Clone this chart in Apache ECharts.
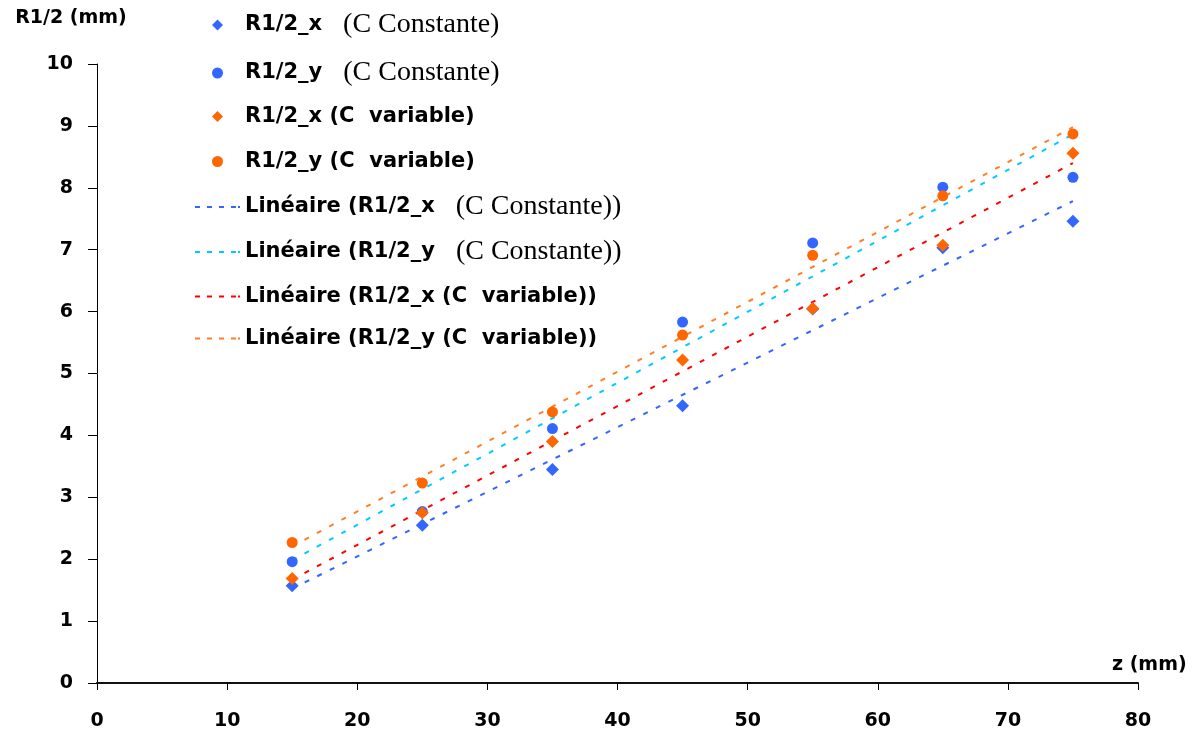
<!DOCTYPE html>
<html><head><meta charset="utf-8">
<script src="https://cdn.jsdelivr.net/npm/echarts@6/dist/echarts.min.js"></script>
<style>html,body{margin:0;padding:0;background:#fff}#c{width:1202px;height:731px}</style>
</head><body><div id="c"></div>
<script>
const zValues = [15, 25, 35, 45, 55, 65, 75];
const rxConst = [1.57, 2.55, 3.45, 4.48, 6.04, 7.03, 7.46];
const ryConst = [1.96, 2.77, 4.11, 5.83, 7.11, 8.01, 8.17];
const rxVar   = [1.69, 2.75, 3.90, 5.22, 6.05, 7.07, 8.56];
const ryVar   = [2.27, 3.23, 4.38, 5.62, 6.91, 7.87, 8.87];
const xTicks = [0, 10, 20, 30, 40, 50, 60, 70, 80];
const yTicks = [0, 1, 2, 3, 4, 5, 6, 7, 8, 9, 10];

const names = ['R1/2_x  (C Constante)', 'R1/2_y  (C Constante)', 'R1/2_x (C variable)', 'R1/2_y (C variable)',
  'Linéaire (R1/2_x  (C Constante))', 'Linéaire (R1/2_y  (C Constante))', 'Linéaire (R1/2_x (C variable))', 'Linéaire (R1/2_y (C variable))'];
const rich = {
  0: '{a|R1/2_x}{s|   (C Constante)}',
  1: '{a|R1/2_y}{s|   (C Constante)}',
  2: '{a|R1/2_x (C  variable)}',
  3: '{a|R1/2_y (C  variable)}',
  4: '{a|Linéaire (R1/2_x}{s|   (C Constante))}',
  5: '{a|Linéaire (R1/2_y}{s|   (C Constante))}',
  6: '{a|Linéaire (R1/2_x (C  variable))}',
  7: '{a|Linéaire (R1/2_y (C  variable))}'
};

function fit(xs, ys) {
  const n = xs.length;
  const mx = xs.reduce((a, b) => a + b, 0) / n;
  const my = ys.reduce((a, b) => a + b, 0) / n;
  let sxy = 0, sxx = 0;
  for (let i = 0; i < n; i++) { sxy += (xs[i] - mx) * (ys[i] - my); sxx += (xs[i] - mx) ** 2; }
  const b = sxy / sxx, a = my - b * mx;
  const x0 = xs[0], x1 = xs[n - 1];
  return [[x0, a + b * x0], [x1, a + b * x1]];
}
const pts = ys => zValues.map((z, i) => [z, ys[i]]);

const blue = '#3366FF', orange = '#FF6600';
const dataSets = [rxConst, ryConst, rxVar, ryVar];
const markerColors = [blue, blue, orange, orange];
const markerSymbols = ['diamond', 'circle', 'diamond', 'circle'];
const markerSizes = [13, 11, 13, 11];
const lineColors = ['#3366FF', '#00CCFF', '#FF0000', '#FF7F27'];
const iconDiamond = 'path://M5,0L10,5L5,10L0,5Z';
const iconCircle = 'path://M0,5A5,5,0,1,0,10,5A5,5,0,1,0,0,5Z';
const iconDash = 'path://M0,0h5v2h-5z M12,0h5v2h-5z M24,0h5v2h-5z M36,0h5v2h-5z M43,0h2v2h-2z';
const legendIcons = [iconDiamond, iconCircle, iconDiamond, iconCircle, iconDash, iconDash, iconDash, iconDash];

const series = [];
dataSets.forEach((d, i) => {
  series.push({
    name: names[i], type: 'scatter', data: pts(d), symbol: markerSymbols[i], symbolSize: markerSizes[i],
    itemStyle: { color: markerColors[i], opacity: 1 }, z: 3
  });
});
dataSets.forEach((d, i) => {
  series.push({
    name: names[4 + i], type: 'line', data: fit(zValues, d), symbol: 'none', silent: true,
    lineStyle: { color: lineColors[i], width: 2, type: [5, 9] }, itemStyle: { color: lineColors[i] }, z: 2
  });
});

const sansB = 'DejaVu Sans';
const rowCenters = [23, 71, 115, 160, 205, 250, 295, 337];
const legends = names.map((n, i) => {
  const hasSerif = rich[i].indexOf('{s|') >= 0;
  return {
    orient: 'vertical', left: i < 4 ? 212 : 195, top: rowCenters[i] - (hasSerif ? 12 : 9), padding: 0,
    itemWidth: 45, itemHeight: 11, symbolKeepAspect: true,
    data: [{ name: n, icon: legendIcons[i] }],
    formatter: nm => rich[names.indexOf(nm)],
    textStyle: {
      rich: {
        a: { fontFamily: sansB, fontWeight: 'bold', fontSize: 21, color: '#000' },
        s: { fontFamily: 'Liberation Serif', fontSize: 28, color: '#000' }
      }
    }
  };
});

const chart = echarts.init(document.getElementById('c'));
chart.setOption({
  animation: false,
  backgroundColor: '#fff',
  grid: { left: 97, right: 64, top: 64, bottom: 48 },
  legend: legends,
  xAxis: {
    type: 'value', min: 0, max: 80, interval: 10,
    name: 'z (mm)', nameLocation: 'end', nameGap: -26,
    nameTextStyle: { fontFamily: sansB, fontWeight: 'bold', fontSize: 19, color: '#000', verticalAlign: 'bottom', padding: [0, 0, 8, 0] },
    axisLine: { lineStyle: { color: '#111', width: 2 } },
    axisTick: { show: true, length: 7, lineStyle: { color: '#000' } },
    axisLabel: { margin: 29, fontFamily: sansB, fontWeight: 'bold', fontSize: 19, color: '#000', formatter: v => xTicks.includes(v) ? String(v) : '' },
    splitLine: { show: false }
  },
  yAxis: {
    type: 'value', min: 0, max: 10, interval: 1,
    name: 'R1/2 (mm)', nameLocation: 'end', nameGap: 36,
    nameTextStyle: { fontFamily: sansB, fontWeight: 'bold', fontSize: 19, color: '#000', align: 'center', padding: [0, 52, 0, 0] },
    axisLine: { show: true, lineStyle: { color: '#000', width: 1 } },
    axisTick: { show: true, length: 9, lineStyle: { color: '#000' } },
    axisLabel: { margin: 24, fontFamily: sansB, fontWeight: 'bold', fontSize: 19, color: '#000', formatter: v => yTicks.includes(v) ? String(v) : '' },
    splitLine: { show: false }
  },
  series: series
});
</script></body></html>
